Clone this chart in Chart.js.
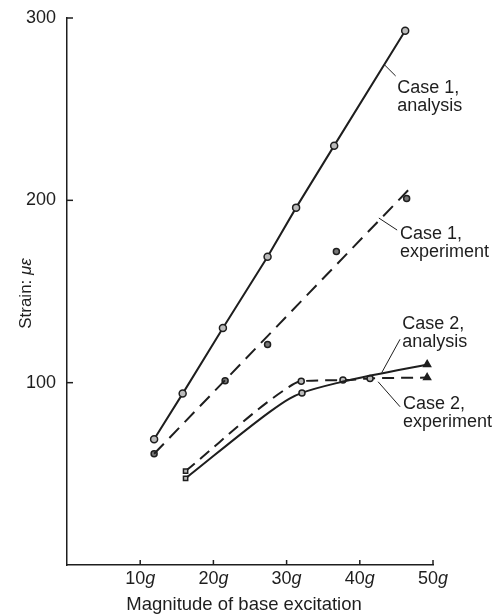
<!DOCTYPE html>
<html>
<head>
<meta charset="utf-8">
<script src="https://cdn.jsdelivr.net/npm/chart.js@4.4.1/dist/chart.umd.min.js"></script>
<style>
  html, body { margin: 0; padding: 0; background: #fff; }
  canvas { display: block; }
</style>
</head>
<body>
<canvas id="chart" width="492" height="614"></canvas>
<script>
// Values: x in g, y in microstrain
const xTicks = [10, 20, 30, 40, 50];
const yTicks = [100, 200, 300];

const case1AnalysisX = [11.9, 15.8, 21.3, 27.4, 31.3, 36.5, 46.2];
const case1AnalysisY = [69, 94, 130, 169, 196, 230, 293];

const case1ExpX = [11.9, 21.6, 27.4, 36.8, 46.4];
const case1ExpY = [61, 101, 121, 172, 201];

const case1FitX = [11.9, 46.6];
const case1FitY = [61, 205.5];

const case2AnalysisX = [16.2, 27.7, 30.4, 32.1, 37, 49.2];
const case2AnalysisY = [47.5, 84, 91.3, 94.4, 99.9, 110];

const case2ExpX = [16.2, 30, 32, 37.7, 41.4, 49.2];
const case2ExpY = [51.5, 96.8, 100.8, 101.4, 102.3, 102.8];

const INK = "#1e1e1e";
const FONT = "'Liberation Sans', Arial, sans-serif";

function toPoints(xs, ys) {
  return xs.map((x, i) => ({ x: x, y: ys[i] }));
}

// Text callouts, anchored in data units
const notes = [
  { lines: ["Case 1,", "analysis"], x: 45.1, y: 258.9, from: [43.4, 274.2], to: [44.9, 268.2] },
  { lines: ["Case 1,", "experiment"], x: 45.5, y: 178.8, from: [42.6, 190.3], to: [45.1, 183.7] },
  { lines: ["Case 2,", "analysis"], x: 45.8, y: 129.4, from: [45.5, 123.8], to: [43.0, 105.5] },
  { lines: ["Case 2,", "experiment"], x: 45.9, y: 85.6, from: [42.5, 100.5], to: [45.5, 86.8] },
];

const inkPlugin = {
  id: "ink",
  afterDraw(chart) {
    const ctx = chart.ctx;
    const xs = chart.scales.x;
    const ys = chart.scales.y;
    const area = chart.chartArea;

    function seg(x1, y1, x2, y2) {
      ctx.beginPath();
      ctx.moveTo(x1, y1);
      ctx.lineTo(x2, y2);
      ctx.stroke();
    }

    ctx.save();
    ctx.strokeStyle = INK;
    ctx.fillStyle = INK;
    ctx.lineWidth = 1.5;

    // inward tick marks
    yTicks.forEach((v) => {
      const py = ys.getPixelForValue(v);
      seg(area.left, py, area.left + 6, py);
    });
    xTicks.forEach((v) => {
      const px = xs.getPixelForValue(v);
      seg(px, area.bottom, px, area.bottom - 5);
    });

    // x tick labels, the g in italics
    ctx.textBaseline = "alphabetic";
    xTicks.forEach((v) => {
      const px = xs.getPixelForValue(v);
      const num = String(v);
      ctx.font = "18px " + FONT;
      const wn = ctx.measureText(num).width;
      ctx.font = "italic 18px " + FONT;
      const wg = ctx.measureText("g").width;
      const x0 = px - (wn + wg) / 2;
      ctx.font = "18px " + FONT;
      ctx.fillText(num, x0, area.bottom + 19);
      ctx.font = "italic 18px " + FONT;
      ctx.fillText("g", x0 + wn, area.bottom + 19);
    });

    // x axis title
    ctx.font = "18.5px " + FONT;
    ctx.textAlign = "center";
    ctx.fillText("Magnitude of base excitation", (area.left + area.right) / 2 - 6, 610);

    // y axis title
    ctx.save();
    ctx.translate(31, (area.top + area.bottom) / 2 + 2);
    ctx.rotate(-Math.PI / 2);
    ctx.textAlign = "left";
    ctx.font = "17px " + FONT;
    const w1 = ctx.measureText("Strain: ").width;
    ctx.font = "italic 17px " + FONT;
    const w2 = ctx.measureText("\u03bc\u03b5").width;
    const sx = -(w1 + w2) / 2;
    ctx.font = "17px " + FONT;
    ctx.fillText("Strain: ", sx, 0);
    ctx.font = "italic 17px " + FONT;
    ctx.fillText("\u03bc\u03b5", sx + w1, 0);
    ctx.restore();

    // callouts
    ctx.lineWidth = 1;
    ctx.textAlign = "left";
    ctx.font = "18px " + FONT;
    notes.forEach((n) => {
      seg(xs.getPixelForValue(n.from[0]), ys.getPixelForValue(n.from[1]),
          xs.getPixelForValue(n.to[0]), ys.getPixelForValue(n.to[1]));
      const tx = xs.getPixelForValue(n.x);
      const ty = ys.getPixelForValue(n.y);
      n.lines.forEach((t, i) => ctx.fillText(t, tx, ty + i * 18));
    });

    ctx.restore();
  },
};

const ctx = document.getElementById("chart").getContext("2d");

new Chart(ctx, {
  type: "line",
  data: {
    datasets: [
      {
        label: "Case 1, analysis",
        data: toPoints(case1AnalysisX, case1AnalysisY),
        borderColor: INK,
        borderWidth: 2,
        tension: 0,
        pointStyle: "circle",
        pointRadius: 3.5,
        pointBackgroundColor: "#bbb",
        pointBorderColor: INK,
        pointBorderWidth: 1.5,
      },
      {
        label: "Case 1, experiment fit",
        data: toPoints(case1FitX, case1FitY),
        borderColor: INK,
        borderWidth: 2,
        borderDash: [14, 8],
        tension: 0,
        pointRadius: 0,
      },
      {
        label: "Case 1, experiment",
        data: toPoints(case1ExpX, case1ExpY),
        showLine: false,
        pointStyle: "circle",
        pointRadius: 3,
        pointBackgroundColor: "#777",
        pointBorderColor: INK,
        pointBorderWidth: 1.5,
      },
      {
        label: "Case 2, analysis",
        data: toPoints(case2AnalysisX, case2AnalysisY),
        borderColor: INK,
        borderWidth: 2,
        cubicInterpolationMode: "monotone",
        pointStyle: ["rect", "circle", "circle", "circle", "circle", "triangle"],
        pointRadius: [3, 0, 0, 3, 0, 4],
        pointBackgroundColor: ["#bbb", INK, INK, "#bbb", INK, INK],
        pointBorderColor: INK,
        pointBorderWidth: 1.5,
      },
      {
        label: "Case 2, experiment",
        data: toPoints(case2ExpX, case2ExpY),
        borderColor: INK,
        borderWidth: 2,
        borderDash: [12, 7],
        cubicInterpolationMode: "monotone",
        pointStyle: ["rect", "circle", "circle", "circle", "circle", "triangle"],
        pointRadius: [3, 0, 3, 3, 3, 4],
        pointBackgroundColor: ["#bbb", INK, "#bbb", "#bbb", "#bbb", INK],
        pointBorderColor: INK,
        pointBorderWidth: 1.5,
      },
    ],
  },
  options: {
    responsive: false,
    animation: false,
    devicePixelRatio: 1,
    layout: { padding: { top: 18, right: 59, left: 0, bottom: 0 } },
    plugins: {
      legend: { display: false },
      tooltip: { enabled: false },
    },
    scales: {
      x: {
        type: "linear",
        min: 0,
        max: 50,
        grid: { display: false },
        border: { display: true, color: INK, width: 1.5 },
        ticks: { display: false, stepSize: 10 },
        afterFit(scale) {
          scale.height = 49;
        },
      },
      y: {
        type: "linear",
        min: 0,
        max: 300,
        grid: { display: false },
        border: { display: true, color: INK, width: 1.5 },
        ticks: {
          stepSize: 100,
          color: INK,
          padding: 3,
          font: { family: FONT, size: 18 },
          callback: (v) => (v === 0 ? "" : v),
        },
        afterFit(scale) {
          scale.width = 67;
        },
      },
    },
  },
  plugins: [inkPlugin],
});
</script>
</body>
</html>
